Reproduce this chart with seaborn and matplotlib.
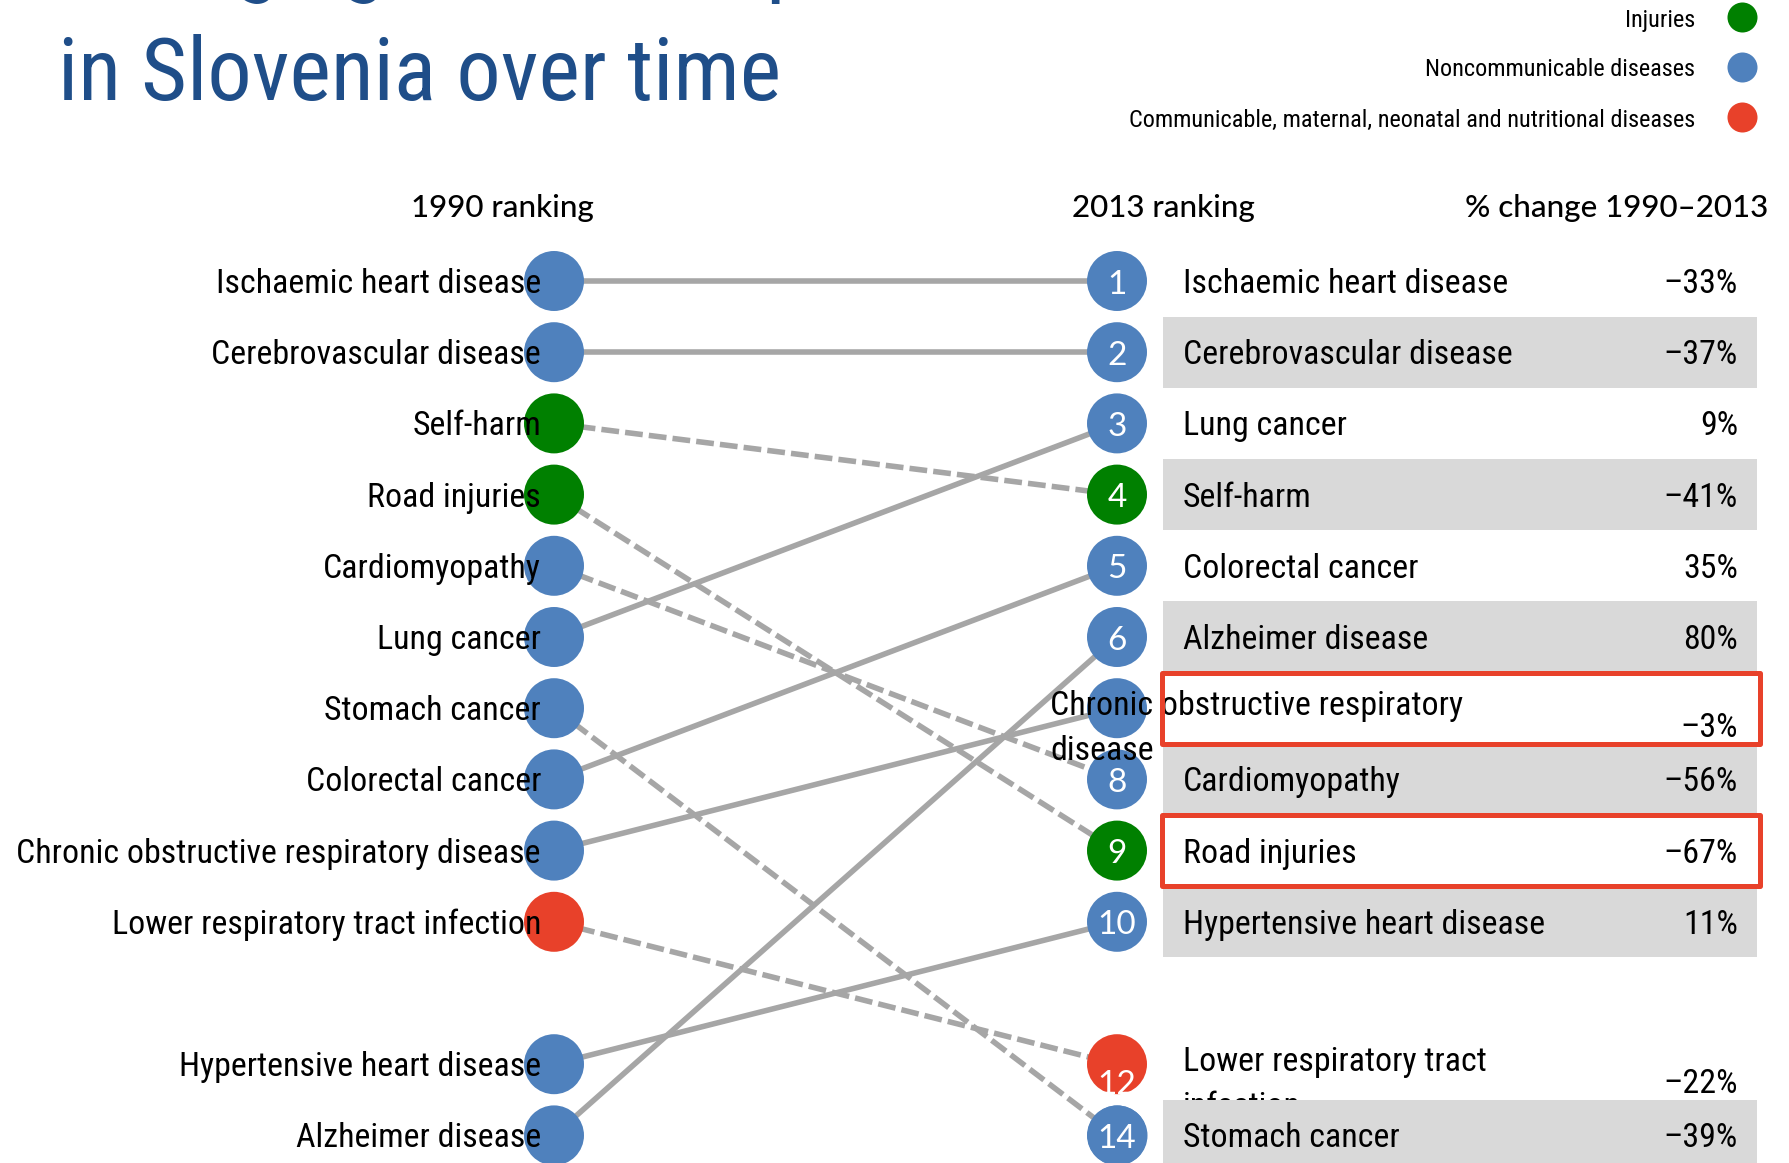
import os
import textwrap
import numpy as np
import pandas as pd
import matplotlib
matplotlib.use("Agg")
import matplotlib.pyplot as plt
import matplotlib.transforms as mtrans
from matplotlib import font_manager as fm
from matplotlib.patches import Rectangle
import seaborn as sns

# ---------------- data ----------------
causes = ["Ischaemic heart disease", "Cerebrovascular disease", "Self-harm",
          "Road injuries", "Cardiomyopathy", "Lung cancer", "Stomach cancer",
          "Colorectal cancer", "Chronic obstructive respiratory disease",
          "Lower respiratory tract infection", "Hypertensive heart disease",
          "Alzheimer disease"]
cause_group = ["Noncommunicable diseases", "Noncommunicable diseases", "Injuries",
               "Injuries", "Noncommunicable diseases", "Noncommunicable diseases",
               "Noncommunicable diseases", "Noncommunicable diseases",
               "Noncommunicable diseases",
               "Communicable, maternal, neonatal and nutritional diseases",
               "Noncommunicable diseases", "Noncommunicable diseases"]
rank_1990 = [1, 2, 3, 4, 5, 6, 7, 8, 9, 10, 12, 13]
rank_2013 = [1, 2, 4, 9, 8, 3, 14, 5, 7, 12, 10, 6]
pct_change = [-33, -37, -41, -67, -56, 9, -39, 35, -3, -22, 11, 80]
highlighted = ["Chronic obstructive respiratory disease", "Road injuries"]
group_names = ["Injuries", "Noncommunicable diseases",
               "Communicable, maternal, neonatal and nutritional diseases"]
title_lines = ["Changing causes of premature death", "in Slovenia over time"]
headers = ["1990 ranking", "2013 ranking", "% change 1990\u20132013"]

# ---------------- style / layout ----------------
W, H = 1789, 1163
COL_PX = (554, 1117)          # pixel x of the 1990 / 2013 columns
ROW1_PX, ROW_PX = 281, 71.2   # pixel y of first row and row pitch
palette = {"Injuries": "#008000", "Noncommunicable diseases": "#4F81BD",
           "Communicable, maternal, neonatal and nutritional diseases": "#E8412A"}
LINE_C = "#A6A6A6"
BAND_C = "#D9D9D9"
BOX_C = "#E8412A"
TITLE_C = "#1F4E89"
label_x_override = {"Chronic obstructive respiratory disease": 1050}
hide_number = {"Chronic obstructive respiratory disease"}

sns.set_theme(style="white")
plt.rcParams["font.family"] = ["Roboto", "DejaVu Sans"]


def pick_narrow_font():
    prefs = ["Liberation Sans Narrow", "Arial Narrow", "Roboto Condensed",
             "Noto Sans", "Open Sans", "DejaVu Sans", "Lato", "Inter", "Roboto"]
    bad = ("bold", "italic", "oblique", "light", "thin", "black", "medium",
           "semibold", "heavy", "extrabold", "mono", "cjk", "display", "symbol")
    stretch_rank = {"condensed": 0, "semi-condensed": 1, "extra-condensed": 2,
                    "ultra-condensed": 3}
    cands = []
    for f in fm.fontManager.ttflist:
        st = str(f.stretch).lower()
        base = os.path.basename(f.fname).lower()
        narrow = ("narrow" in f.name.lower() or "condensed" in f.name.lower()
                  or st in stretch_rank or "condensed" in base or "narrow" in base)
        if not narrow or f.style != "normal":
            continue
        stem = base.replace("condensed", "").replace("narrow", "")
        if any(b in stem for b in bad):
            continue
        pr = next((i for i, p in enumerate(prefs) if f.name.startswith(p)), len(prefs))
        sr = stretch_rank.get(st, 0 if ("narrow" in base or "-condensed" in base) else 1)
        if "semicondensed" in base:
            sr = 1
        if "extracondensed" in base:
            sr = 2
        cands.append((pr, sr, f.fname))
    if cands:
        cands.sort()
        return fm.FontProperties(fname=cands[0][2])
    return fm.FontProperties(family=["Roboto", "DejaVu Sans"])


NARROW_FP = pick_narrow_font()
HEAD_FP = fm.FontProperties(family=["Lato", "DejaVu Sans"], weight=500)


def display_slot(ranks, top=10):
    extra = sorted(r for r in ranks if r > top)
    return [r if r <= top else top + 2 + extra.index(r) for r in ranks]


slot_1990 = display_slot(rank_1990)
slot_2013 = display_slot(rank_2013)

n = len(causes)
df = pd.DataFrame({
    "cause": causes * 2,
    "group": cause_group * 2,
    "year": [0] * n + [1] * n,
    "slot": slot_1990 + slot_2013,
    "worse": [r2 > r1 for r1, r2 in zip(rank_1990, rank_2013)] * 2,
})

fig = plt.figure(figsize=(W / 100, H / 100), dpi=100)
renderer = fig.canvas.get_renderer()


def fit_fp(base_fp, sample, target_px, max_pt):
    fp = base_fp.copy()
    fp.set_size(100)
    t = fig.text(0, 0, sample, fontproperties=fp)
    w = t.get_window_extent(renderer).width
    t.remove()
    fp.set_size(min(max_pt, 100 * target_px / w))
    return fp


LABEL_FP = fit_fp(NARROW_FP, "Ischaemic heart disease", 325, 26.5)
TITLE_FP = fit_fp(NARROW_FP, title_lines[1], 723, 68.5)
LEG_FP = fit_fp(NARROW_FP, "Noncommunicable diseases", 270, 19)
HDR_FP = fit_fp(HEAD_FP, headers[2], 304, 24)
NUM_FP = fm.FontProperties(family=["Lato", "DejaVu Sans"], size=24)

ax = fig.add_axes([0, 0, 1, 1])
px = mtrans.Affine2D().scale(1 / W, -1 / H).translate(0, 1) + fig.transFigure
row_tr = mtrans.blended_transform_factory(px, ax.transData)


def ry(slot, dy_px=0.0):
    return slot + dy_px / ROW_PX


# slope lines
sns.lineplot(data=df, x="year", y="slot", units="cause", estimator=None,
             style="worse", dashes={False: "", True: (3.2, 1.1)},
             color=LINE_C, linewidth=4, legend=False, sort=False, ax=ax, zorder=2)

# circles
sns.scatterplot(data=df, x="year", y="slot", hue="group", palette=palette,
                s=1866, linewidth=0, legend=False, ax=ax, zorder=3)

# left labels
for c, s in zip(causes, slot_1990):
    ax.text(COL_PX[0] - 13, ry(s, 12), c, transform=row_tr, ha="right",
            va="baseline", fontproperties=LABEL_FP, color="black", zorder=6)

# right table
order = np.argsort(slot_2013)
last_slot = max(slot_2013)
for k, i in enumerate(order):
    c, s, r = causes[i], slot_2013[i], rank_2013[i]
    lines = textwrap.wrap(c, 31)
    shift = 17 * (len(lines) - 1)
    zb = 6 + 0.02 * s
    if k % 2 == 1:
        ax.add_patch(Rectangle((1163, s - 0.5), 1757 - 1163, 1.0,
                               transform=row_tr, facecolor=BAND_C,
                               edgecolor="none", zorder=zb))
    x_lab = label_x_override.get(c, 1183)
    for j, ln in enumerate(lines):
        ax.text(x_lab, ry(s, shift + 12 - 22.5 * (len(lines) - 1) + 45 * j), ln,
                transform=row_tr, ha="left", va="baseline",
                fontproperties=LABEL_FP, color="black", zorder=zb + 0.01)
    v = pct_change[i]
    ptxt = ("\u2013" if v < 0 else "") + f"{abs(v)}%"
    ax.text(1738, ry(s, shift + 12), ptxt, transform=row_tr, ha="right",
            va="baseline", fontproperties=LABEL_FP, color="black", zorder=zb + 0.01)
    if c not in hide_number:
        ax.text(1, ry(s, shift + 12.5), str(r), ha="center", va="baseline",
                fontproperties=NUM_FP, color="white",
                zorder=4 if s != last_slot else 5.5)
    if c in highlighted:
        ax.add_patch(Rectangle((1162, s - 0.5), 1760 - 1162, 1.0,
                               transform=row_tr, facecolor="none",
                               edgecolor=BOX_C, linewidth=3.6,
                               joinstyle="round", zorder=9))

# last 2013 circle drawn again on top of the one above it
sns.scatterplot(data=df[(df.year == 1) & (df.slot == last_slot)], x="year", y="slot",
                hue="group", palette=palette, s=1866, linewidth=0,
                legend=False, ax=ax, zorder=5)

# axes mapping: data x 0/1 -> column pixels, data slot -> row pixels
span = COL_PX[1] - COL_PX[0]
ax.set_xlim(-COL_PX[0] / span, (W - COL_PX[0]) / span)
ax.set_ylim(1 + (H - ROW1_PX) / ROW_PX, 1 - ROW1_PX / ROW_PX)
ax.axis("off")

# headers
ax.text(502, 217, headers[0], transform=px, ha="center", va="baseline",
        fontproperties=HDR_FP, color="black")
ax.text(1163, 217, headers[1], transform=px, ha="center", va="baseline",
        fontproperties=HDR_FP, color="black")
ax.text(1768, 217, headers[2], transform=px, ha="right", va="baseline",
        fontproperties=HDR_FP, color="black")

# title (first line runs off the top of the canvas)
ax.text(58, -14, title_lines[0], transform=px, ha="left", va="baseline",
        fontproperties=TITLE_FP, color=TITLE_C)
ax.text(58, 100, title_lines[1], transform=px, ha="left", va="baseline",
        fontproperties=TITLE_FP, color=TITLE_C)

# legend (labels left, markers right)
for j, g in enumerate(group_names):
    yy = 17 + 50 * j
    ax.text(1695, yy + 9.5, g, transform=px, ha="right", va="baseline",
            fontproperties=LEG_FP, color="black")
    ax.scatter([1742], [yy], transform=px, s=467, color=palette[g],
               linewidth=0, zorder=5)

fig.savefig("out.png", dpi=100)
